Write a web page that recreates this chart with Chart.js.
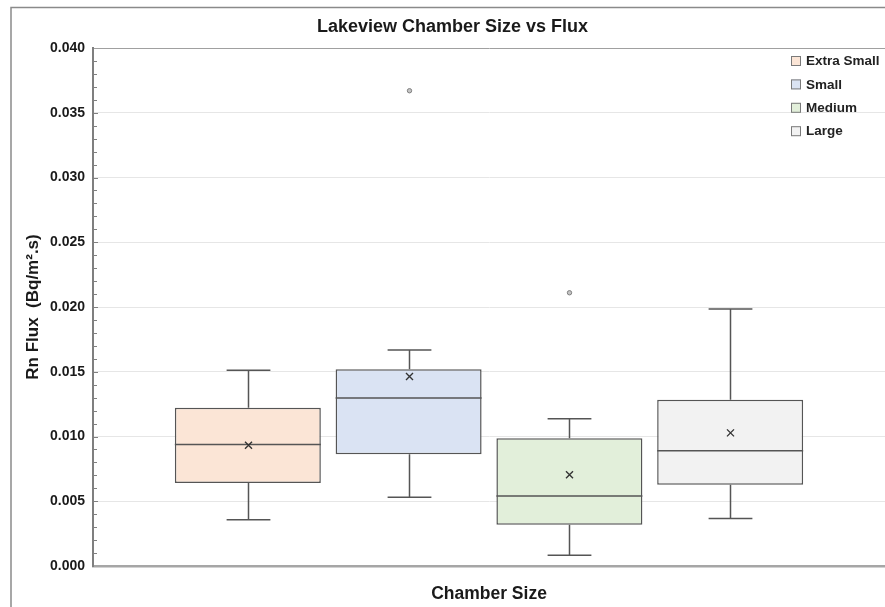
<!DOCTYPE html>
<html>
<head>
<meta charset="utf-8">
<title>Lakeview Chamber Size vs Flux</title>
<script src="https://cdn.jsdelivr.net/npm/chart.js@4.4.1/dist/chart.umd.min.js"></script>
<style>
  html, body { margin: 0; padding: 0; background: #ffffff; }
  #wrap { position: relative; width: 885px; height: 607px; }
</style>
</head>
<body>
<div id="wrap"><canvas id="chart"></canvas></div>
<script>
// Chamber size groups
const sizes = ['Extra Small', 'Small', 'Medium', 'Large'];
const category = ['Chamber Size'];

// Five-number summaries of Rn flux (Bq/m².s) per chamber size
const whiskerLow  = [0.00357, 0.00530, 0.00083, 0.00367];
const q1          = [0.00641, 0.00863, 0.00318, 0.00628];
const medians     = [0.00938, 0.01297, 0.00540, 0.00889];
const q3          = [0.01222, 0.01519, 0.00987, 0.01284];
const whiskerHigh = [0.01512, 0.01667, 0.01137, 0.01984];
const means       = [0.00933, 0.01463, 0.00705, 0.01028];
const outliers    = [[], [0.0367], [0.0211], []];

// Y axis ticks
const yMin = 0, yMax = 0.04, yStep = 0.005, yMinorStep = 0.001;

const fills = ['#fbe5d6', '#dae3f3', '#e2efda', '#f2f2f2'];
const strokeColor = '#555555';
const FONT = "'Liberation Sans', Arial, Helvetica, sans-serif";

// Outer frame around the figure
const framePlugin = {
  id: 'frame',
  beforeDraw(chart) {
    const ctx = chart.ctx;
    ctx.save();
    ctx.fillStyle = '#ffffff';
    ctx.fillRect(0, 0, chart.width, chart.height);
    ctx.strokeStyle = '#8a8a8a';
    ctx.lineWidth = 1.5;
    ctx.strokeRect(11, 7.5, chart.width + 20, chart.height + 20);
    ctx.restore();
  }
};

// Inward major/minor tick marks on the value axis
const innerTicksPlugin = {
  id: 'innerTicks',
  afterDraw(chart) {
    const y = chart.scales.y;
    const ctx = chart.ctx;
    const x0 = chart.chartArea.left;
    ctx.save();
    ctx.strokeStyle = '#808080';
    ctx.lineWidth = 1;
    const n = Math.round((yMax - yMin) / yMinorStep);
    for (let k = 1; k < n; k++) {
      const v = yMin + k * yMinorStep;
      const major = k % Math.round(yStep / yMinorStep) === 0;
      const py = Math.round(y.getPixelForValue(v)) + 0.5;
      ctx.beginPath();
      ctx.moveTo(x0, py);
      ctx.lineTo(x0 + (major ? 5 : 4), py);
      ctx.stroke();
    }
    ctx.restore();
  }
};

// Whiskers, medians, means and outliers drawn over the floating IQR bars
const boxDetailsPlugin = {
  id: 'boxDetails',
  afterDatasetsDraw(chart) {
    const y = chart.scales.y;
    const ctx = chart.ctx;
    ctx.save();
    chart.data.datasets.forEach((ds, i) => {
      const bar = chart.getDatasetMeta(i).data[0];
      if (!bar) return;
      const cx = Math.round(bar.x) + 0.5;
      const half = bar.width / 2;
      const capHalf = bar.width * 0.15;
      const yLo = y.getPixelForValue(whiskerLow[i]);
      const yQ1 = y.getPixelForValue(q1[i]);
      const yQ3 = y.getPixelForValue(q3[i]);
      const yHi = y.getPixelForValue(whiskerHigh[i]);
      const yMed = y.getPixelForValue(medians[i]);
      const yMean = y.getPixelForValue(means[i]);

      ctx.strokeStyle = strokeColor;
      ctx.lineWidth = 1.5;
      ctx.beginPath();
      // lower whisker
      ctx.moveTo(cx, yQ1); ctx.lineTo(cx, yLo);
      ctx.moveTo(cx - capHalf, yLo); ctx.lineTo(cx + capHalf, yLo);
      // upper whisker
      ctx.moveTo(cx, yQ3); ctx.lineTo(cx, yHi);
      ctx.moveTo(cx - capHalf, yHi); ctx.lineTo(cx + capHalf, yHi);
      // median
      ctx.moveTo(bar.x - half, yMed); ctx.lineTo(bar.x + half, yMed);
      ctx.stroke();

      // mean marker
      const m = 3.5;
      ctx.strokeStyle = '#333333';
      ctx.lineWidth = 1.4;
      ctx.beginPath();
      ctx.moveTo(cx - m, yMean - m); ctx.lineTo(cx + m, yMean + m);
      ctx.moveTo(cx + m, yMean - m); ctx.lineTo(cx - m, yMean + m);
      ctx.stroke();

      // outliers
      outliers[i].forEach(v => {
        const py = y.getPixelForValue(v);
        ctx.beginPath();
        ctx.arc(cx, py, 2.2, 0, Math.PI * 2);
        ctx.fillStyle = '#c4c4c4';
        ctx.fill();
        ctx.strokeStyle = '#808080';
        ctx.lineWidth = 1;
        ctx.stroke();
      });
    });
    ctx.restore();
  }
};

// Legend placed inside the top-right of the plot
const cornerLegendPlugin = {
  id: 'cornerLegend',
  afterDraw(chart) {
    const ctx = chart.ctx;
    const x = chart.chartArea.right - 94;
    let yc = chart.chartArea.top + 13;
    ctx.save();
    ctx.font = "bold 13.5px " + FONT;
    ctx.textBaseline = 'middle';
    ctx.textAlign = 'left';
    chart.data.datasets.forEach(ds => {
      ctx.fillStyle = ds.backgroundColor;
      ctx.fillRect(x, yc - 5, 10, 10);
      ctx.strokeStyle = '#7a7a7a';
      ctx.lineWidth = 1;
      ctx.strokeRect(x + 0.5, yc - 4.5, 9, 9);
      ctx.fillStyle = '#222222';
      ctx.fillText(ds.label, x + 15, yc + 0.5);
      yc += 23.4;
    });
    ctx.restore();
  }
};

const datasets = sizes.map((name, i) => ({
  label: name,
  data: [[q1[i], q3[i]]],
  backgroundColor: fills[i],
  borderColor: strokeColor,
  borderWidth: 1.5,
  borderSkipped: false,
  categoryPercentage: 0.812,
  barPercentage: 0.908
}));

new Chart(document.getElementById('chart'), {
  type: 'bar',
  data: { labels: category, datasets },
  plugins: [framePlugin, boxDetailsPlugin, innerTicksPlugin, cornerLegendPlugin],
  options: {
    responsive: true,
    maintainAspectRatio: false,
    devicePixelRatio: 1,
    animation: false,
    layout: { padding: { left: 20, right: 0, top: 0, bottom: 0 } },
    plugins: {
      legend: { display: false },
      tooltip: { enabled: false },
      title: {
        display: true,
        text: 'Lakeview Chamber Size vs Flux',
        color: '#1a1a1a',
        font: { family: FONT, size: 18, weight: 'bold', lineHeight: 1.2 },
        padding: { top: 16, bottom: 10.4 }
      }
    },
    scales: {
      x: {
        type: 'category',
        grid: { display: false, drawTicks: false },
        border: { display: true, color: '#a6a6a6', width: 2.5 },
        ticks: {
          color: '#1a1a1a',
          padding: 18,
          font: { family: FONT, size: 17.5, weight: 'bold' }
        },
        afterFit(scale) { scale.height = 41; }
      },
      y: {
        min: yMin,
        max: yMax,
        grid: {
          drawTicks: false,
          color: ctx => (ctx.tick && Math.abs(ctx.tick.value - yMax) < 1e-9) ? '#a0a0a0' : '#e6e6e6',
          lineWidth: 1
        },
        border: { display: true, color: '#7f7f7f', width: 2 },
        ticks: {
          stepSize: yStep,
          padding: 8,
          color: '#1a1a1a',
          font: { family: FONT, size: 14, weight: 'bold' },
          callback: v => Number(v).toFixed(3)
        },
        title: {
          display: true,
          text: 'Rn Flux  (Bq/m².s)',
          color: '#1a1a1a',
          font: { family: FONT, size: 17, weight: 'bold', lineHeight: 1.2 },
          padding: { top: 3, bottom: 0 }
        },
        afterFit(scale) { scale.width = 73; }
      }
    }
  }
});
</script>
</body>
</html>
